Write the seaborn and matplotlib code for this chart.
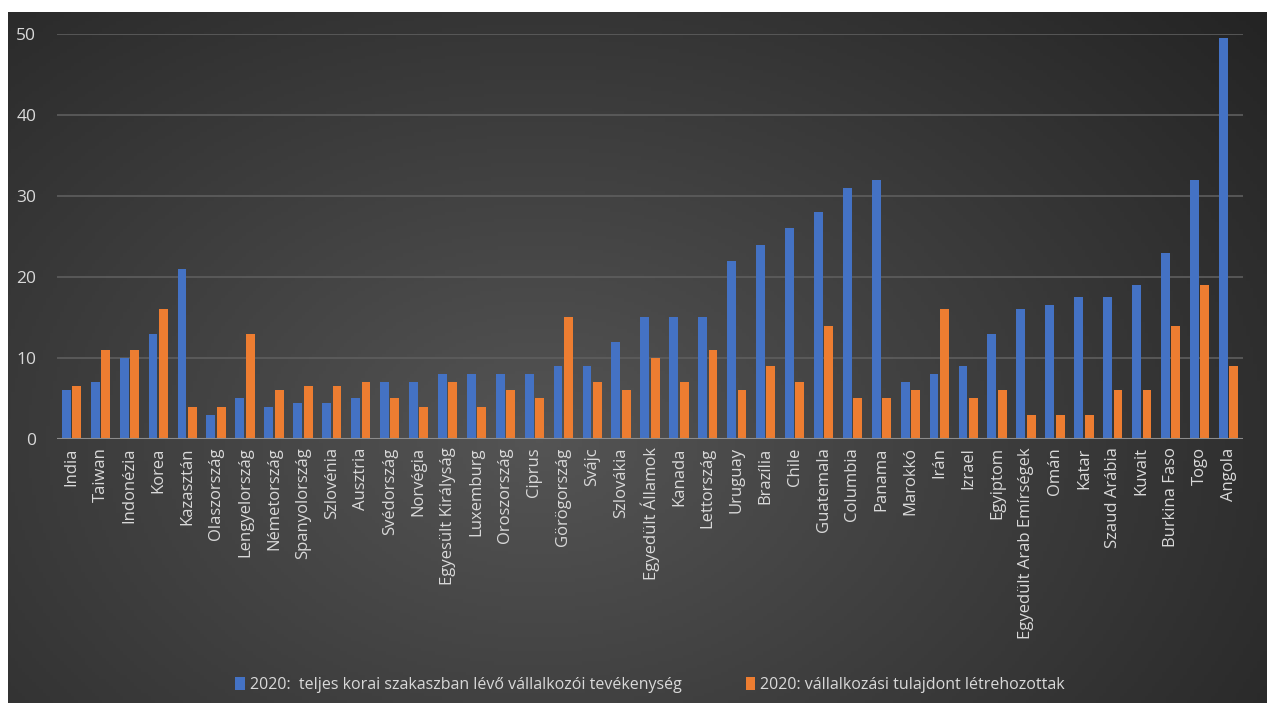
import numpy as np
import pandas as pd
import matplotlib
matplotlib.use("Agg")
import matplotlib.pyplot as plt
import seaborn as sns

countries = ["India", "Taiwan", "Indonézia", "Korea", "Kazasztán", "Olaszország",
             "Lengyelország", "Németország", "Spanyolország", "Szlovénia", "Ausztria",
             "Svédország", "Norvégia", "Egyesült Királyság", "Luxemburg", "Oroszország",
             "Ciprus", "Görögország", "Svájc", "Szlovákia", "Egyedült Államok", "Kanada",
             "Lettország", "Uruguay", "Brazília", "Chile", "Guatemala", "Columbia",
             "Panama", "Marokkó", "Irán", "Izrael", "Egyiptom", "Egyedült Arab Emírségek",
             "Omán", "Katar", "Szaud Arábia", "Kuvait", "Burkina Faso", "Togo", "Angola"]
tea = [6, 7, 10, 13, 21, 3, 5, 4, 4.5, 4.5, 5, 7, 7, 8, 8, 8, 8, 9, 9, 12, 15, 15, 15,
       22, 24, 26, 28, 31, 32, 7, 8, 9, 13, 16, 16.5, 17.5, 17.5, 19, 23, 32, 49.5]
owners = [6.5, 11, 11, 16, 4, 4, 13, 6, 6.5, 6.5, 7, 5, 4, 7, 4, 6, 5, 15, 7, 6, 10, 7,
          11, 6, 9, 7, 14, 5, 5, 6, 16, 5, 6, 3, 3, 3, 6, 6, 14, 19, 9]
series_names = ["2020:  teljes korai szakaszban lévő vállalkozói tevékenység",
                "2020: vállalkozási tulajdont létrehozottak"]
yticks = [0, 10, 20, 30, 40, 50]

df = pd.DataFrame({
    "country": countries * 2,
    "value": tea + owners,
    "series": [series_names[0]] * len(countries) + [series_names[1]] * len(countries),
})

sns.set_theme(style="dark")
plt.rcParams["font.family"] = ["Open Sans", "DejaVu Sans"]

W, H = 1267, 713
fig = plt.figure(figsize=(W / 100, H / 100), dpi=100, facecolor="white")

# dark radial-gradient background panel
bg = fig.add_axes([8 / W, 10 / H, 1 - 8 / W, 1 - 22 / H])
ny, nx = 200, 360
yy, xx = np.mgrid[0:ny, 0:nx]
cx, cy = nx * 0.42, ny * 0.62
d = np.sqrt(((xx - cx) / nx) ** 2 + ((yy - cy) / ny) ** 2 * 0.6)
d = d / d.max()
shade = 0.33 - 0.19 * d
img = np.dstack([shade, shade, shade])
bg.imshow(img, aspect="auto", extent=[0, 1, 0, 1], origin="upper")
bg.set_axis_off()

ax = fig.add_axes([57 / W, 1 - 439 / H, (1243 - 57) / W, (439 - 34) / H])
ax.patch.set_alpha(0)
sns.barplot(data=df, x="country", y="value", hue="series",
            palette=["#4472C4", "#ED7D31"], width=0.72, gap=0.15,
            saturation=1, linewidth=0, edgecolor="none", ax=ax, legend=True)

ax.set_ylim(0, 50)
ax.set_xlim(-0.5, len(countries) - 0.5)
ax.set_yticks(yticks)
ax.set_xlabel("")
ax.set_ylabel("")
for s in ax.spines.values():
    s.set_visible(False)
ax.axhline(0, color="#8c8c8c", lw=1.5, zorder=3)
for t in yticks[1:]:
    ax.axhline(t, color="#5e5e5e", lw=1.2, zorder=0)
ax.grid(False)
ax.tick_params(axis="y", colors="#d9d9d9", labelsize=12.5, length=0, pad=15)
ax.tick_params(axis="x", colors="#d9d9d9", labelsize=12, length=0, pad=6)
plt.setp(ax.get_xticklabels(), rotation=90, ha="center", va="top")

leg = ax.legend(loc="center", bbox_to_anchor=(0.5, (439 - 685) / (439 - 34)),
                ncol=2, frameon=False, fontsize=11.5, handlelength=0.6,
                handleheight=0.9, handletextpad=0.3, columnspacing=4.0)
for t in leg.get_texts():
    t.set_color("#d9d9d9")

fig.savefig("out.png", dpi=100, facecolor="white")
